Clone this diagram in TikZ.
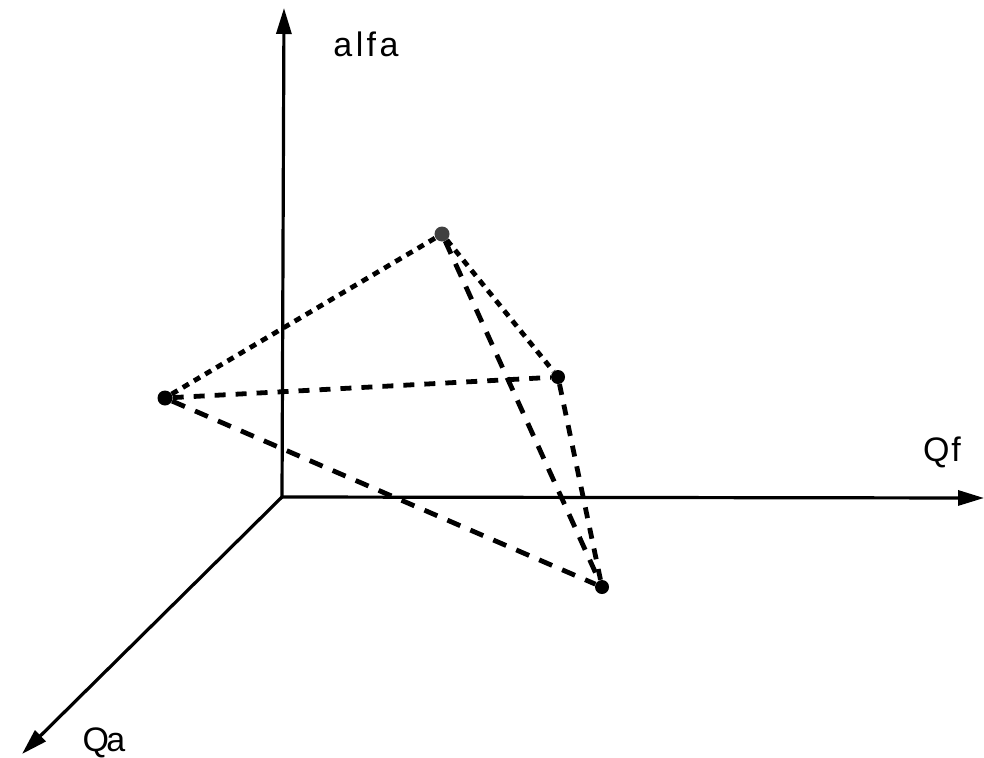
\documentclass[tikz,border=0pt]{standalone}
\usepackage{fontspec}
\setmainfont{Liberation Sans}
\usetikzlibrary{arrows.meta}
\begin{document}
\begin{tikzpicture}[x=1pt,y=-1pt,
  axis/.style={line width=3.2pt,-{Triangle[length=26pt,width=15pt]}},
  dot/.style={circle,fill=black,inner sep=0pt,minimum size=14pt},
  lbl/.style={font=\fontsize{34}{36}\selectfont},
  dA/.style={line width=4.8pt,dash pattern=on 7pt off 6pt},
  dB/.style={line width=4.8pt,dash pattern=on 11pt off 10pt},
  dC/.style={line width=4.8pt,dash pattern=on 14pt off 11pt}]
\useasboundingbox (0,0) rectangle (984,757);
\coordinate (O) at (282,497);
\coordinate (Zt) at (284,8);
\coordinate (Xt) at (984,498);
\coordinate (Yt) at (22,754);
\draw[axis] (O) -- (Zt);
\draw[axis] (O) -- (Xt);
\draw[axis] (O) -- (Yt);
\node[lbl] (alfa) at (366,44) {\addfontfeatures{LetterSpace=10}alfa};
\node[lbl] (qf) at (942,452) {\addfontfeatures{LetterSpace=5}Qf};
\node[lbl] (qa) at (104,743) {\addfontfeatures{LetterSpace=-8}Qa};
\node[dot,fill=black!75,minimum size=15pt] (A) at (442,234) {};
\node[dot] (B) at (558,377) {};
\node[dot,minimum size=15pt] (C) at (165,398) {};
\node[dot] (D) at (602,587) {};
\draw[dA] (C) -- (A);
\draw[dA] (A) -- (B);
\draw[dB] (C) -- (B);
\draw[dC] (C) -- (D);
\draw[dC] (A) -- (D);
\draw[dB] (B) -- (D);
\end{tikzpicture}
\end{document}
